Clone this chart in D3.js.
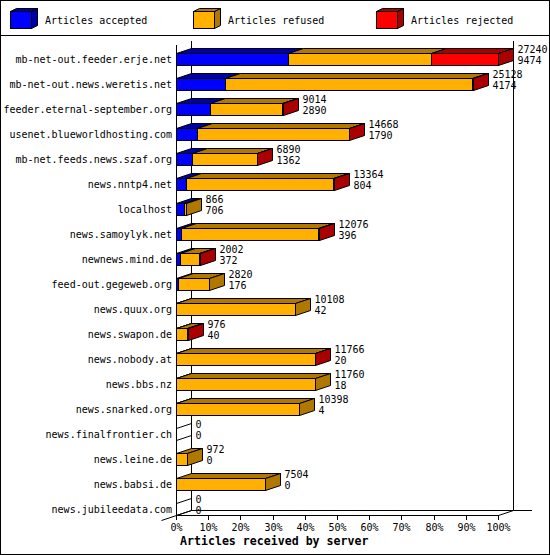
<!DOCTYPE html>
<html>
<head>
<meta charset="utf-8">
<script src="https://cdn.jsdelivr.net/npm/d3@7"></script>
<style>
  body { margin: 0; background: #fff; }
  svg { display: block; }
  text { font-family: "DejaVu Sans Mono", monospace; font-size: 10px; fill: #000; }
  .title { font-weight: bold; font-size: 11.6px; }
  .frame, .axis { fill: none; stroke: #000; stroke-width: 1; shape-rendering: crispEdges; }
  .face { stroke: #000; stroke-width: 1; stroke-linejoin: miter; }
</style>
</head>
<body>
<script>
// servers, top to bottom
let hosts = ['mb-net-out.feeder.erje.net', 'mb-net-out.news.weretis.net', 'feeder.eternal-september.org',
  'usenet.blueworldhosting.com', 'mb-net.feeds.news.szaf.org', 'news.nntp4.net', 'localhost',
  'news.samoylyk.net', 'newnews.mind.de', 'feed-out.gegeweb.org', 'news.quux.org', 'news.swapon.de',
  'news.nobody.at', 'news.bbs.nz', 'news.snarked.org', 'news.finalfrontier.ch', 'news.leine.de',
  'news.babsi.de', 'news.jubileedata.com'];

// the two printed numbers
let received = [27240, 25128, 9014, 14668, 6890, 13364, 866, 12076, 2002, 2820, 10108, 976, 11766, 11760, 10398, 0, 972, 7504, 0];
let accepted = [9474, 4174, 2890, 1790, 1362, 804, 706, 396, 372, 176, 42, 40, 20, 18, 4, 0, 0, 0, 0];
let refused  = [12072, 20894, 6044, 12828, 5488, 12500, 160, 11640, 1600, 2644, 10066, 916, 11716, 11742, 10394, 0, 972, 7504, 0];
let rejected = [5694, 60, 80, 50, 40, 60, 0, 40, 30, 0, 0, 20, 30, 0, 0, 0, 0, 0, 0];

let seriesNames = ['Articles accepted', 'Articles refused', 'Articles rejected'];
let tickLabels = ['0%', '10%', '20%', '30%', '40%', '50%', '60%', '70%', '80%', '90%', '100%'];

let colors = ['#0000ff', '#ffb000', '#ff0000'];
let shades = ['#0000a8', '#b07800', '#aa0000'];

let svgWidth = 550, svgHeight = 555;
let depthX = 15, depthY = -5; // 3d offset
let barH = 12;

let svg = d3.select('body').append('svg')
  .attr('width', svgWidth)
  .attr('height', svgHeight);

// frame + legend separator
svg.append('rect').attr('class', 'frame')
  .attr('x', 0.5).attr('y', 0.5).attr('width', svgWidth - 1).attr('height', svgHeight - 1);
svg.append('line').attr('class', 'frame')
  .attr('x1', 0).attr('x2', svgWidth).attr('y1', 35.5).attr('y2', 35.5);

// legend cubes
let legend = svg.selectAll('g.legend')
  .data(seriesNames)
  .enter().append('g')
    .attr('class', 'legend')
    .attr('transform', (d, i) => 'translate(' + (10 + i * 183) + ',0)');

legend.append('path').attr('class', 'face')
  .attr('fill', (d, i) => shades[i])
  .attr('d', 'M21.5,11.5 L27.5,8.5 L27.5,25.5 L21.5,28.5 Z');
legend.append('path').attr('class', 'face')
  .attr('fill', (d, i) => shades[i])
  .attr('d', 'M0.5,11.5 L6.5,8.5 L27.5,8.5 L21.5,11.5 Z');
legend.append('rect').attr('class', 'face')
  .attr('fill', (d, i) => colors[i])
  .attr('x', 0.5).attr('y', 11.5).attr('width', 21).attr('height', 17);
legend.append('text')
  .attr('x', 35).attr('y', 24)
  .text(d => d);

// scales
let xScale = d3.scaleLinear()
  .domain([0, d3.max(received)])
  .range([176, 498]);

let yScale = d3.scaleBand()
  .domain(hosts)
  .range([47, 47 + hosts.length * 25]);

let px = v => Math.round(xScale(v)) + 0.5;
let x0 = px(0), x100 = px(d3.max(received));
let yTop = 40.5, yBack = 510.5, yFront = yBack - depthY;

// walls and floor
let axis = svg.append('g').attr('class', 'axis');
axis.append('line').attr('x1', x0 + depthX).attr('x2', x0 + depthX).attr('y1', yTop).attr('y2', yBack);
axis.append('line').attr('x1', x100 + depthX).attr('x2', x100 + depthX).attr('y1', yTop).attr('y2', yBack);
axis.append('line').attr('x1', x0).attr('x2', x0).attr('y1', 45).attr('y2', yFront);
axis.append('line').attr('x1', x0 + depthX).attr('x2', 532).attr('y1', yBack).attr('y2', yBack);
axis.append('line').attr('x1', x0).attr('x2', x100).attr('y1', yFront).attr('y2', yFront);
axis.append('line').style('shape-rendering', 'auto')
  .attr('x1', x0 - depthX).attr('y1', yFront - depthY).attr('x2', x0 + depthX).attr('y2', yBack);
axis.append('line').style('shape-rendering', 'auto')
  .attr('x1', x100).attr('y1', yFront).attr('x2', x100 + depthX).attr('y2', yBack);

// ticks + labels
let ticks = svg.selectAll('g.tick')
  .data(tickLabels)
  .enter().append('g')
    .attr('class', 'tick')
    .attr('transform', (d, i) => 'translate(' + px(d3.max(received) * i / 10) + ',0)');
ticks.append('line').attr('class', 'axis')
  .attr('y1', yFront).attr('y2', yFront + 4);
ticks.append('text')
  .attr('y', 531)
  .attr('text-anchor', 'middle')
  .text(d => d);

svg.append('text').attr('class', 'title')
  .attr('x', 180).attr('y', 544.5)
  .text('Articles received by server');

// host labels
svg.selectAll('text.host')
  .data(hosts)
  .enter().append('text')
    .attr('class', 'host')
    .attr('x', 172)
    .attr('y', d => yScale(d) + 16)
    .attr('text-anchor', 'end')
    .text(d => d);

// bars
let rows = hosts.map((h, i) => {
  let vals = [accepted[i], refused[i], rejected[i]];
  let cum = 0, segs = [];
  vals.forEach((v, k) => {
    if (v > 0) segs.push({ k: k, a: cum, b: cum + v });
    cum += v;
  });
  return { host: h, total: received[i], acc: accepted[i], segs: segs };
});

let bars = svg.selectAll('g.bar')
  .data(rows)
  .enter().append('g')
    .attr('class', 'bar')
    .attr('transform', d => 'translate(0,' + (yScale(d.host) + 6.5) + ')');

function side(x, fill, g) {
  g.append('path').attr('class', 'face')
    .attr('fill', fill)
    .attr('d', 'M' + x + ',0 L' + (x + depthX) + ',' + depthY + ' L' + (x + depthX) + ',' + (depthY + barH) +
      ' L' + x + ',' + barH + ' Z');
}

bars.each(function(d) {
  let g = d3.select(this);
  if (d.segs.length === 0) {
    side(x0, 'none', g);
    return;
  }
  d.segs.forEach((s, j) => {
    let x1 = px(s.a), x2 = px(s.b);
    g.append('path').attr('class', 'face')
      .attr('fill', shades[s.k])
      .attr('d', 'M' + x1 + ',0 L' + (x1 + depthX) + ',' + depthY + ' L' + (x2 + depthX) + ',' + depthY +
        ' L' + x2 + ',0 Z');
    g.append('rect').attr('class', 'face')
      .attr('fill', colors[s.k])
      .attr('x', x1).attr('y', 0)
      .attr('width', x2 - x1).attr('height', barH);
    if (j === d.segs.length - 1) side(x2, shades[s.k], g);
  });
});

// values at bar ends
bars.append('text')
  .attr('x', d => px(d.total) + depthX + 4)
  .attr('y', -1)
  .text(d => d.total);
bars.append('text')
  .attr('x', d => px(d.total) + depthX + 4)
  .attr('y', 10)
  .text(d => d.acc);
</script>
</body>
</html>
